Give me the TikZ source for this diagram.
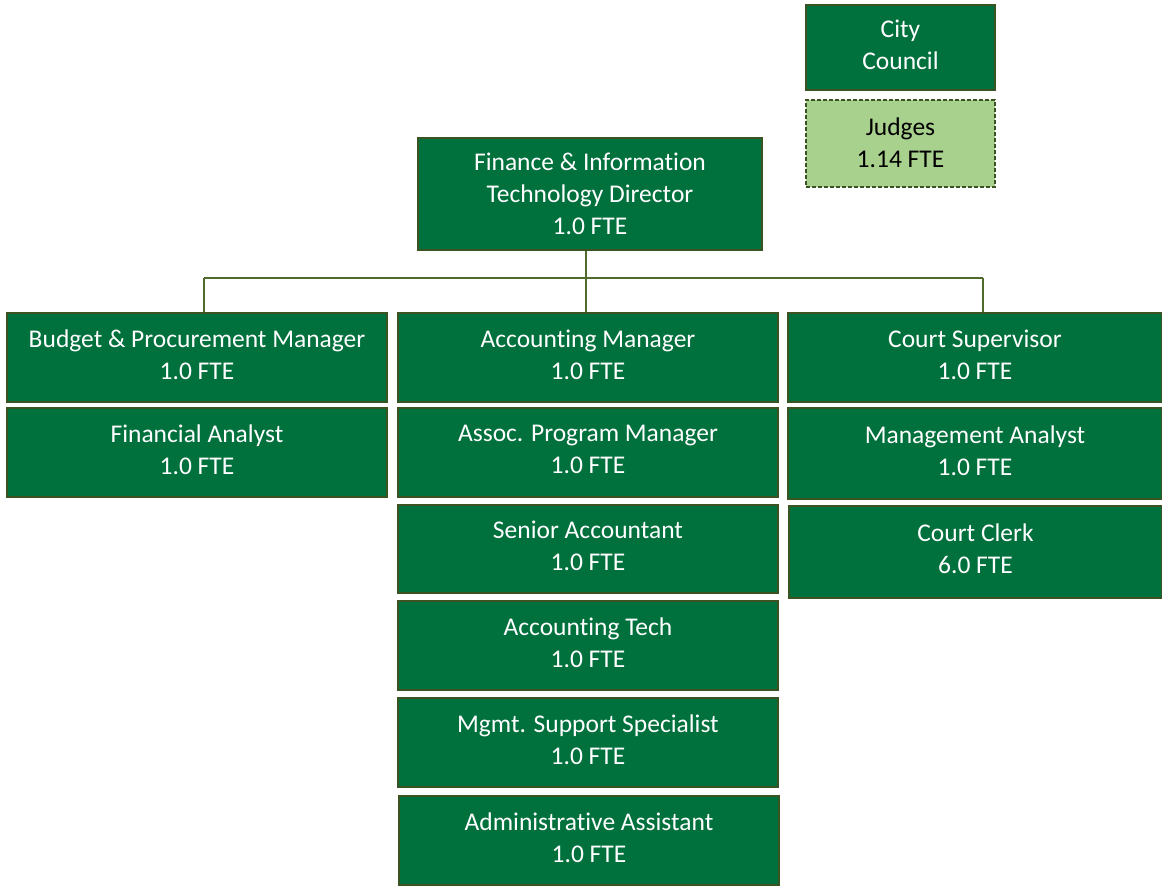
\documentclass[tikz,border=0pt]{standalone}
\usepackage{fontspec}
\setmainfont{Carlito}[Ligatures=NoCommon]
\begin{document}
\begin{tikzpicture}[x=1pt,y=-1pt,
  boxtext/.style={align=center, inner sep=0pt, text=white,
    font=\fontsize{25.5}{32}\selectfont, yshift=3pt},
  boxframe/.style={rectangle, draw=boxline, line width=1.5pt, fill=boxgreen,
    inner sep=0pt},
  box/.style={boxframe, label={[boxtext]center:#1}},
  tallbox/.style={boxframe, label={[boxtext, yshift=-3pt]center:#1}},
  judgebox/.style={boxframe, fill=judgegreen,
    dash pattern=on 4pt off 2pt,
    label={[boxtext, text=black, yshift=-2pt]center:#1}},
  link/.style={draw=linkgreen, line width=1.4pt}]
\definecolor{boxgreen}{HTML}{00703C}
\definecolor{boxline}{HTML}{3B5323}
\definecolor{judgegreen}{HTML}{A9D18E}
\definecolor{linkgreen}{HTML}{4F6B2C}
\useasboundingbox (0,0) rectangle (1162,886);

% top of the chart
\node[box={City\\Council}, minimum width=189pt, minimum height=85pt] (council) at (900.5,47.5) {};
\node[judgebox={Judges\\1.14 FTE}, minimum width=189pt, minimum height=87pt] (judges) at (900.5,143.5) {};
\node[tallbox={Finance \& Information\\Technology\ Director\\1.0 FTE}, minimum width=344pt, minimum height=112pt] (dir) at (590,194) {};

% left column
\node[box={Budget \& Procurement Manager\\1.0 FTE}, minimum width=380pt, minimum height=89pt] (bud) at (197,357.5) {};
\node[box={Financial Analyst\\1.0 FTE}, minimum width=380pt, minimum height=89pt] (fin) at (197,452.5) {};

% middle column
\node[box={Accounting Manager\\1.0 FTE}, minimum width=380pt, minimum height=89pt] (acc) at (588,357.5) {};
\node[box={Assoc. Program Manager\\1.0 FTE}, minimum width=380pt, minimum height=89pt] (apm) at (588,452.5) {};
\node[box={Senior Accountant\\1.0 FTE}, minimum width=380pt, minimum height=88pt] (sen) at (588,549) {};
\node[box={Accounting Tech\\1.0 FTE}, minimum width=380pt, minimum height=89pt] (tech) at (588,645.5) {};
\node[box={Mgmt. Support Specialist\\1.0 FTE}, minimum width=380pt, minimum height=89pt] (mss) at (588,742.5) {};
\node[box={Administrative Assistant\\1.0 FTE}, minimum width=380pt, minimum height=89pt] (adm) at (589,840.5) {};

% right column
\node[box={Court Supervisor\\1.0 FTE}, minimum width=374pt, minimum height=89pt] (cs) at (975,357.5) {};
\node[box={Management\ Analyst\\1.0 FTE}, minimum width=374pt, minimum height=91pt] (ma) at (975,453.5) {};
\node[box={Court Clerk\\6.0 FTE}, minimum width=373pt, minimum height=92pt] (cc) at (975.5,552) {};

% reporting lines
\coordinate (drop) at (586,278);
\coordinate (busL) at (204,278);
\coordinate (busR) at (983,278);
\draw[link] (drop |- dir.south) -- (drop |- acc.north);
\draw[link] (busL) -- (busR);
\draw[link] (busL) -- (busL |- bud.north);
\draw[link] (busR) -- (busR |- cs.north);
\end{tikzpicture}
\end{document}
